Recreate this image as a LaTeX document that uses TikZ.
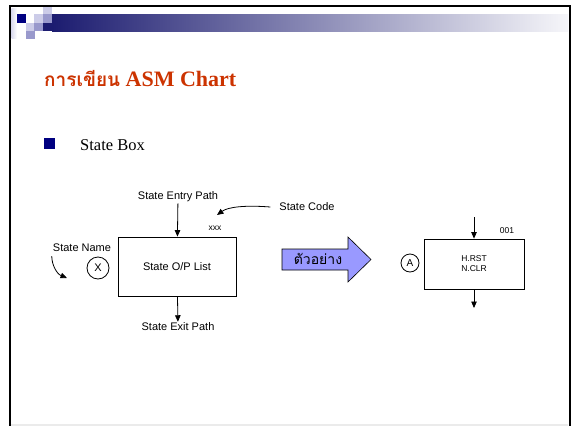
\documentclass[tikz,border=0pt]{standalone}
\usepackage{fontspec}
\setmainfont{Liberation Serif}
\setsansfont{Liberation Sans}
\newfontfamily\thaifont[Script=Thai]{Loma}
\usepackage{xcolor}
\usetikzlibrary{arrows.meta,positioning,calc}

\definecolor{barnavy}{HTML}{1C1C70}
\definecolor{barmid}{HTML}{B0B0C8}
\definecolor{bulletnavy}{HTML}{000080}
\definecolor{titlered}{HTML}{CC3300}
\definecolor{sqlight}{HTML}{CCCCE8}
\definecolor{sqmid}{HTML}{9999CC}
\definecolor{arrowfill}{HTML}{9999FF}

\begin{document}
\begin{tikzpicture}[
    x=1pt, y=-1pt,
    statebox/.style={
        rectangle,
        draw,
        line width=0.8pt,
        align=center
    },
    namering/.style={
        circle,
        draw,
        line width=0.8pt,
        inner sep=0pt,
        font=\sffamily\fontsize{11}{12}\selectfont
    },
    lbl/.style={
        font=\sffamily\fontsize{11}{12}\selectfont,
        inner sep=1pt
    },
    small/.style={
        font=\sffamily\fontsize{8.5}{10}\selectfont,
        inner sep=1pt
    },
    arrow/.style={
        -{Triangle[length=6.5pt,width=5.5pt]},
        line width=0.8pt
    }
]
\useasboundingbox (0,0) rectangle (571,426);

% slide frame and top bar
\fill[white] (0,0) rectangle (571,426);
\fill[black!8] (11,424) rectangle (568,426);
\draw[line width=2.6pt] (10,426) -- (10,6);
\draw[line width=2pt] (9,6) -- (569.5,6) -- (569.5,426);
\shade[left color=barnavy, middle color=barmid, right color=white!96!barnavy] (52,14) rectangle (568,31);
\shade[left color=sqlight!70, right color=white] (11.5,8) rectangle (17,38);
\fill[bulletnavy] (17,14) rectangle (26,23);
\fill[sqlight] (34,14) rectangle (43,23);
\fill[sqlight] (43,7) rectangle (52,14);
\fill[sqmid] (43,14) rectangle (52,23);
\fill[barnavy] (43,23) rectangle (52,31);
\fill[sqlight] (26,23) rectangle (34,31);
\fill[sqmid] (34,23) rectangle (43,31);
\fill[sqmid] (26,31) rectangle (35,39);

% title and bullet
\node[anchor=base west, inner sep=0pt, text=titlered, font=\bfseries\fontsize{22}{26}\selectfont] (title) at (44,86) {{\thaifont\fontsize{19}{26}\selectfont การเขียน} ASM Chart};
\fill[bulletnavy] (44,138) rectangle (55,149);
\node[anchor=base west, inner sep=0pt, font=\fontsize{16.5}{20}\selectfont] (bullet) at (80,150) {State Box};

% general state box
\node[statebox, lbl, minimum width=118pt, minimum height=59pt] (state) at (177,266.5) {State O/P List};
\node[lbl] (entry) at (178,197) {State Entry Path};
\node[lbl] (exit) at (178,327) {State Exit Path};
\node[namering, minimum size=22pt] (xname) at (98,268) {X};
\node[lbl] (stname) at (82,248) {State Name};
\node[lbl] (stcode) at (307,207) {State Code};
\node[small] (code) at (215,228) {xxx};
\coordinate (nametip) at (67,278);
\coordinate (codetip) at (217,215);

\draw[arrow] (entry) -- (state);
\draw[arrow] (state) -- (exit);
\draw[arrow] ([yshift=-3pt]stname.south west) .. controls ($(stname.south west)+(0,12)$) and (57,274) .. (nametip);
\draw[arrow] ([xshift=-8pt]stcode.west) .. controls (245,205) and (228,207) .. (codetip);

% example arrow
\filldraw[fill=arrowfill, draw=black, line width=0.6pt] (282,249) -- (348,249) -- (348,237) -- (371,259.5) -- (348,282) -- (348,270) -- (282,270) -- cycle;
\node[inner sep=0pt, font=\thaifont\fontsize{14}{16}\selectfont] (example) at (318,259) {ตัวอย่าง};

% example state box
\node[statebox, small, minimum width=100pt, minimum height=50pt] (reset) at (474,264) {H.RST\\N.CLR};
\node[namering, minimum size=18pt, font=\sffamily\fontsize{10}{12}\selectfont] (aname) at (410,263) {A};
\node[small] (rcode) at (507,231) {001};
\coordinate (rin) at (474,217);
\coordinate (rout) at (474,308);

\draw[arrow] (rin) -- (reset);
\draw[arrow] (reset) -- (rout);

\end{tikzpicture}
\end{document}
